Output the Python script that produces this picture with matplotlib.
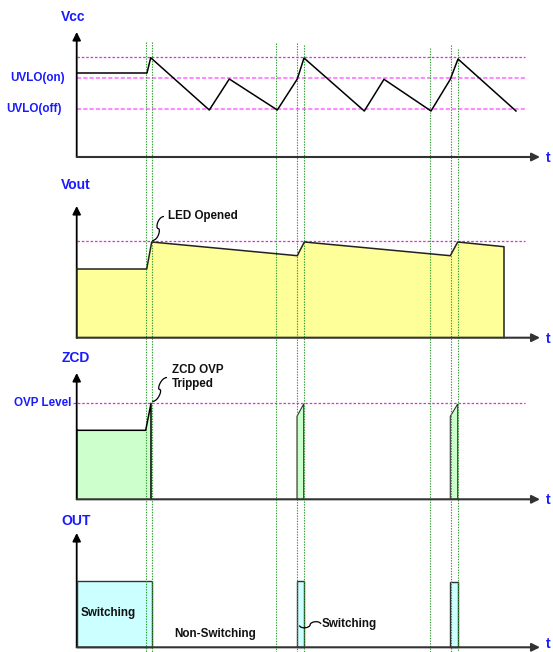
import matplotlib
matplotlib.use("Agg")
import matplotlib.pyplot as plt
from matplotlib.path import Path
from matplotlib.patches import PathPatch

plt.rcParams['font.family'] = ['Liberation Sans', 'DejaVu Sans']

# ---- data (pixel-space coordinates of the timing diagram) ----
vline_x = [145.7, 151.7, 276, 297.3, 303.7, 429.7, 450.7, 458]
vline_top = [42, 42, 43, 43, 45, 48, 45, 49]

vcc_x = [77, 147, 150.7, 209.3, 229.3, 277.3, 297.3, 304, 364.3, 384, 431, 450.3, 458, 516]
vcc_y = [73, 73, 57.7, 110, 79, 110, 79, 58, 111, 79.3, 111, 79.3, 59, 111]
vcc_levels = [57.3, 78, 109.3]
vcc_level_names = ["", "UVLO(on)", "UVLO(off)"]
vcc_level_label_x = [0, 10, 6]

vout_x = [77, 146.7, 151.7, 297.3, 304.3, 450.3, 457.7, 504, 504]
vout_y = [269, 269, 242, 255.7, 242, 255.7, 242, 246.7, 337.7]
vout_level = 241

zcd_x = [77, 145.7, 151, 151]
zcd_y = [430.3, 430.3, 403.3, 499.3]
zcd_pulse_x0 = [297, 450.3]
zcd_pulse_x1 = [303.7, 457.7]
zcd_pulse_ytop0 = [416.3, 416.3]
zcd_pulse_ytop1 = [404, 404]
ovp_level = 403.3

out_pulse_x0 = [77, 297, 450.3]
out_pulse_x1 = [151.7, 303.7, 457.7]
out_pulse_top = [580.7, 581.3, 582.3]

panel_names = ["Vcc", "Vout", "ZCD", "OUT"]
panel_name_x = [61, 61, 62, 61]
panel_name_y = [17, 185, 357.5, 521]
axis_top = [32, 206, 373, 533]
axis_base = [157, 337.7, 499.3, 647.3]

BLUE = "#1a1aff"
MAG = "#ee22ee"
PINK = "#ff8cff"
GREEN = "#2e9a2e"
AX = "#333333"
FS = 8.4

fig = plt.figure(figsize=(5.53, 6.52), dpi=100)
ax = fig.add_axes([0, 0, 1, 1])
ax.set_xlim(0, 553)
ax.set_ylim(652, 0)
ax.axis("off")

# vertical green timing lines
for x, t in zip(vline_x, vline_top):
    ax.plot([x, x], [t, 652], color=GREEN, lw=0.8, ls=(0, (1.2, 1.2)), zorder=4)

# axes for each panel
for name, nx, ny, top, base in zip(panel_names, panel_name_x, panel_name_y, axis_top, axis_base):
    ax.text(nx, ny, name, color=BLUE, fontsize=10, fontweight="bold", va="center", ha="left")
    ax.annotate("", xy=(76.7, top), xytext=(76.7, base),
                arrowprops=dict(arrowstyle="-|>", color="black", lw=1.3, mutation_scale=12, shrinkA=0, shrinkB=0))
    ax.annotate("", xy=(540, base), xytext=(76.7, base),
                arrowprops=dict(arrowstyle="-|>", color=AX, lw=1.5, mutation_scale=12, shrinkA=0, shrinkB=0),
                zorder=6)
    ax.text(546, min(base + 1, 643.5), "t", color=BLUE, fontsize=10, fontweight="bold", va="center", ha="left")

# Vcc levels
ax.plot([77, 525], [vcc_levels[0]] * 2, color=MAG, lw=0.9, ls=(0, (2, 1.5)), zorder=2)
for lvl in vcc_levels[1:]:
    ax.plot([77, 525], [lvl, lvl], color=PINK, lw=1.5, ls=(0, (2, 1)), zorder=2)
for name, lx, lvl in zip(vcc_level_names, vcc_level_label_x, vcc_levels):
    if name:
        ax.text(lx, lvl, name, color=BLUE, fontsize=FS, fontweight="bold", va="center", ha="left")
ax.plot(vcc_x, vcc_y, color="black", lw=1.1, zorder=5)

# Vout
ax.plot([77, 525], [vout_level] * 2, color=MAG, lw=0.9, ls=(0, (2, 1.5)), zorder=2)
ax.fill(vout_x + [77], vout_y + [337.7], facecolor="#ffff99", edgecolor="none", zorder=3)
ax.plot(vout_x, vout_y, color="#222222", lw=1.1, zorder=5)
ax.plot([77, 77], [269, 337.7], color="#222222", lw=1.1, zorder=5)

# ZCD
ax.plot([73, 525], [ovp_level] * 2, color=MAG, lw=0.9, ls=(0, (2, 1.5)), zorder=2)
ax.text(14, ovp_level, "OVP Level", color=BLUE, fontsize=FS, fontweight="bold", va="center", ha="left")
ax.fill(zcd_x + [77], zcd_y + [499.3], facecolor="#ccffcc", edgecolor="none", zorder=3)
ax.plot(zcd_x, zcd_y, color="black", lw=1.1, zorder=5)
ax.plot([77, 77], [430.3, 499.3], color="black", lw=1.1, zorder=5)
for x0, x1, y0, y1 in zip(zcd_pulse_x0, zcd_pulse_x1, zcd_pulse_ytop0, zcd_pulse_ytop1):
    px = [x0, x0, x1, x1]
    py = [499.3, y0, y1, 499.3]
    ax.fill(px, py, facecolor="#ccffcc", edgecolor="#333333", lw=0.8, zorder=3)

# OUT
for x0, x1, top in zip(out_pulse_x0, out_pulse_x1, out_pulse_top):
    ax.fill([x0, x0, x1, x1], [647.3, top, top, 647.3], facecolor="#ccffff",
            edgecolor="#333333", lw=1.0, zorder=3)

# annotations
TC = "#111111"
ax.text(81, 613, "Switching", fontsize=FS, fontweight="bold", va="center", ha="left", color=TC)
ax.text(174, 634, "Non-Switching", fontsize=FS, fontweight="bold", va="center", ha="left", color=TC)
ax.text(322, 624.5, "Switching", fontsize=FS, fontweight="bold", va="center", ha="left", color=TC)
ax.text(168, 215.5, "LED Opened", fontsize=FS, fontweight="bold", va="center", ha="left", color=TC)
ax.text(172, 370, "ZCD OVP", fontsize=FS, fontweight="bold", va="center", ha="left", color=TC)
ax.text(172, 383.5, "Tripped", fontsize=FS, fontweight="bold", va="center", ha="left", color=TC)


def squiggle(p0, p1):
    (x0, y0), (x1, y1) = p0, p1
    mx, my = (x0 + x1) / 2, (y0 + y1) / 2
    verts = [(x0, y0), (x0 - 6, y0), (mx - 3, my), (mx, my),
             (mx + 3, my), (x1 + 6, y1), (x1, y1)]
    codes = [Path.MOVETO, Path.CURVE4, Path.CURVE4, Path.CURVE4,
             Path.CURVE4, Path.CURVE4, Path.CURVE4]
    ax.add_patch(PathPatch(Path(verts, codes), facecolor="none", edgecolor="black", lw=0.9, zorder=7))


def squiggle_h(p0, p1):
    (x0, y0), (x1, y1) = p0, p1
    mx, my = (x0 + x1) / 2, (y0 + y1) / 2
    verts = [(x0, y0), (x0 + 2, y0 + 4), (mx, my + 3), (mx, my),
             (mx, my - 3), (x1 - 2, y1 - 4), (x1, y1)]
    codes = [Path.MOVETO, Path.CURVE4, Path.CURVE4, Path.CURVE4,
             Path.CURVE4, Path.CURVE4, Path.CURVE4]
    ax.add_patch(PathPatch(Path(verts, codes), facecolor="none", edgecolor="black", lw=0.9, zorder=7))


squiggle((164, 216.5), (152.3, 240.5))
squiggle((167, 377.5), (152.3, 401.5))
squiggle_h((299.3, 625.5), (321, 624))

fig.savefig("out.png", dpi=100)
